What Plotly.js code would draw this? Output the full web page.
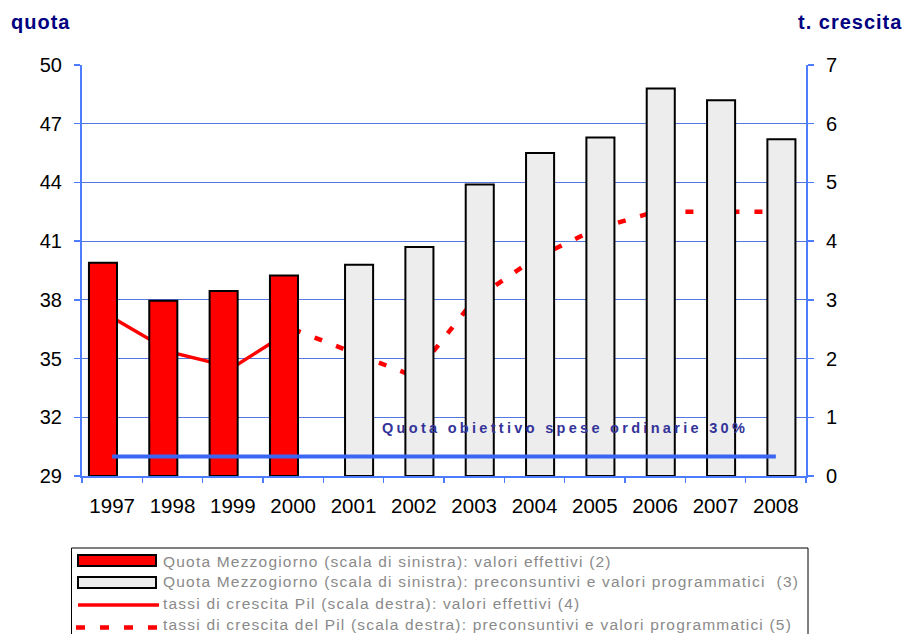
<!DOCTYPE html>
<html>
<head>
<meta charset="utf-8">
<script src="https://cdn.plot.ly/plotly-3.0.1.min.js"></script>
<style>html,body{margin:0;padding:0;background:#fff;}#chart{width:905px;height:634px;}</style>
</head>
<body>
<div id="chart"></div>
<script>
// ---- data ----
const years = ["1997","1998","1999","2000","2001","2002","2003","2004","2005","2006","2007","2008"];
const quotaEffettivi = [39.9, 37.95, 38.45, 39.25, null, null, null, null, null, null, null, null];
const quotaProgrammatici = [null, null, null, null, 39.8, 40.7, 43.9, 45.5, 46.3, 48.8, 48.2, 46.2];
const pilEffettivi = [2.7, 2.1, 1.85, 2.5, null, null, null, null, null, null, null, null];
const pilProgrammatici = [null, null, null, 2.5, 2.1, 1.7, 3.0, 3.7, 4.2, 4.5, 4.5, 4.5];
const quotaObiettivo = [30, 30, 30, 30, 30, 30, 30, 30, 30, 30, 30, 30];
const seriesNames = [
  "Quota Mezzogiorno (scala di sinistra): valori effettivi (2)",
  "Quota Mezzogiorno (scala di sinistra): preconsuntivi e valori programmatici  (3)",
  "tassi di crescita Pil (scala destra): valori effettivi (4)",
  "tassi di crescita del Pil (scala destra): preconsuntivi e valori programmatici (5)"
];
const targetLabel = "Quota obiettivo spese ordinarie 30%";
const leftTitle = "quota";
const rightTitle = "t. crescita";
const leftTicks = [29, 32, 35, 38, 41, 44, 47, 50];
const rightTicks = [0, 1, 2, 3, 4, 5, 6, 7];
const quotaBase = 29;

// ---- layout geometry ----
const W = 905, H = 634;
const L = 82, R = 806, T = 65, B = 476;
const px = x => (x - L) / (R - L);
const py = y => (B - y) / (B - T);

const RED = "#ff0000";
const AXIS_BLUE = "#4d7cff";
const GRID_BLUE = "#5577e0";
const FONT = "Liberation Sans, Arial, sans-serif";

const traces = [
  {type: "scatter", x: years, y: pilEffettivi, name: seriesNames[2], mode: "lines",
   line: {color: RED, width: 3.5}, xaxis: "x", yaxis: "y", showlegend: false, hoverinfo: "skip"},
  {type: "scatter", x: years, y: pilProgrammatici, name: seriesNames[3], mode: "lines",
   line: {color: RED, width: 4.5, dash: "8px,15px"}, xaxis: "x", yaxis: "y", showlegend: false, hoverinfo: "skip"},
  {type: "bar", x: years, y: quotaEffettivi.map(v => v === null ? null : v - quotaBase), name: seriesNames[0], base: quotaBase,
   width: 0.465, offset: -0.385,
   marker: {color: RED, line: {color: "#000", width: 2}}, xaxis: "x", yaxis: "y2", showlegend: false},
  {type: "bar", x: years, y: quotaProgrammatici.map(v => v === null ? null : v - quotaBase), name: seriesNames[1], base: quotaBase,
   width: 0.465, offset: -0.14,
   marker: {color: "#ededed", line: {color: "#000", width: 2}}, xaxis: "x", yaxis: "y2", showlegend: false},
  {type: "scatter", x: years, y: quotaObiettivo, name: targetLabel, mode: "lines",
   line: {color: "#3a66f4", width: 4}, xaxis: "x", yaxis: "y2", showlegend: false}
];

const shapes = [
  // legend box
  {type: "rect", xref: "paper", yref: "paper", x0: px(71.5), x1: px(808), y0: py(548), y1: py(645),
   line: {color: "#000", width: 1}, fillcolor: "rgba(0,0,0,0)"},
  {type: "rect", xref: "paper", yref: "paper", x0: px(78), x1: px(156), y0: py(555), y1: py(566),
   line: {color: "#000", width: 2}, fillcolor: RED},
  {type: "rect", xref: "paper", yref: "paper", x0: px(78), x1: px(156), y0: py(577), y1: py(588),
   line: {color: "#000", width: 2}, fillcolor: "#ededed"},
  {type: "line", xref: "paper", yref: "paper", x0: px(78), x1: px(159), y0: py(605), y1: py(605),
   line: {color: RED, width: 3.5}},
  {type: "line", xref: "paper", yref: "paper", x0: px(76), x1: px(159), y0: py(627.5), y1: py(627.5),
   line: {color: RED, width: 4.5, dash: "9px,15px"}}
];

const legendRowsY = [561, 581, 603, 624];
const annotations = seriesNames.map((n, i) => ({
  xref: "paper", yref: "paper", x: px(161), y: py(legendRowsY[i]), xanchor: "left", yanchor: "middle",
  text: '<span style="letter-spacing:1.2px">' + n + '</span>', showarrow: false,
  font: {family: FONT, size: 15.5, color: "#8a8a8a"}
}));
annotations.push({
  xref: "paper", yref: "paper", x: px(380), y: py(428), xanchor: "left", yanchor: "middle",
  text: '<span style="letter-spacing:3.3px">' + targetLabel + '</span>', showarrow: false,
  font: {family: FONT, size: 14.5, color: "#333399", weight: "bold"}
});
annotations.push({
  xref: "paper", yref: "paper", x: px(9), y: py(22), xanchor: "left", yanchor: "middle",
  text: '<span style="letter-spacing:1px">' + leftTitle + '</span>', showarrow: false,
  font: {family: FONT, size: 20, color: "#000080", weight: "bold"}
});
annotations.push({
  xref: "paper", yref: "paper", x: px(904), y: py(22), xanchor: "right", yanchor: "middle",
  text: '<span style="letter-spacing:1px">' + rightTitle + '</span>', showarrow: false,
  font: {family: FONT, size: 20, color: "#000080", weight: "bold"}
});

const layout = {
  width: W, height: H,
  margin: {l: L, r: W - R, t: T, b: H - B, pad: 0},
  paper_bgcolor: "#fff", plot_bgcolor: "#fff",
  barmode: "overlay",
  showlegend: false,
  font: {family: FONT, size: 19, color: "#000"},
  xaxis: {type: "category", categoryorder: "array", categoryarray: years,
    showline: true, linecolor: AXIS_BLUE, linewidth: 2,
    ticks: "outside", tickson: "boundaries", ticklen: 5, tickcolor: AXIS_BLUE, tickwidth: 1.5,
    showgrid: false, ticklabelstandoff: 10, tickfont: {size: 20.5}},
  yaxis: {side: "right", range: [0, 7], tickvals: rightTicks, showgrid: true, gridcolor: GRID_BLUE, gridwidth: 1,
    showline: true, linecolor: AXIS_BLUE, linewidth: 2, zeroline: false,
    ticks: "outside", ticklen: 6, tickcolor: AXIS_BLUE, tickwidth: 1.5, ticklabelstandoff: 8, tickfont: {size: 20}},
  yaxis2: {overlaying: "y", side: "left", range: [29, 50], tickvals: leftTicks, showgrid: false,
    showline: true, linecolor: AXIS_BLUE, linewidth: 2, zeroline: false,
    ticks: "outside", ticklen: 6, tickcolor: AXIS_BLUE, tickwidth: 1.5, ticklabelstandoff: 8, tickfont: {size: 20}},
  shapes: shapes,
  annotations: annotations
};

Plotly.newPlot("chart", traces, layout, {displayModeBar: false, staticPlot: true});
</script>
</body>
</html>
